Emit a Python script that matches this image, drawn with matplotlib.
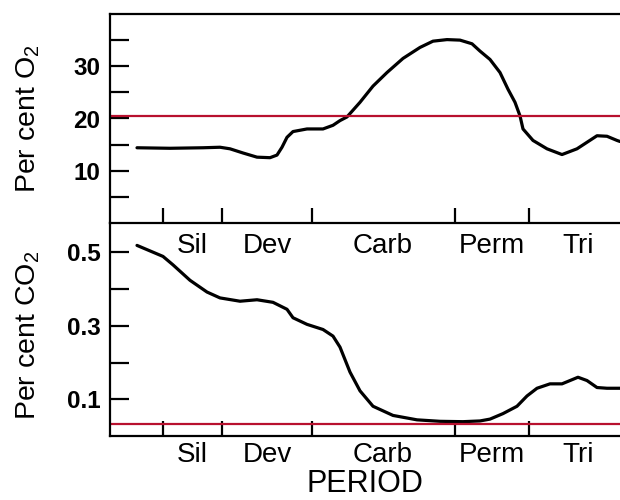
import matplotlib
matplotlib.use("Agg")
import matplotlib.pyplot as plt
from matplotlib.ticker import FixedLocator

plt.rcParams['font.family'] = ['Liberation Sans', 'DejaVu Sans']
plt.rcParams['mathtext.fontset'] = 'custom'
plt.rcParams['mathtext.rm'] = 'Liberation Sans'
plt.rcParams['mathtext.it'] = 'Liberation Sans'

# ---- data (x in arbitrary geologic-time units, left -> right = older -> younger)
periods = ["Sil", "Dev", "Carb", "Perm", "Tri"]
period_centers = [82, 157, 273, 382, 468]
period_bounds = [53, 112, 202, 345, 419]

o2_x = [27, 60, 93, 110, 120, 133, 147, 160, 167, 172, 177, 183, 197, 213, 223,
        230, 237, 250, 263, 277, 293, 310, 323, 337, 350, 362, 370, 380, 390,
        398, 405, 410, 413, 423, 437, 452, 467, 487, 497, 507, 510]
o2_y = [14.4, 14.3, 14.4, 14.5, 14.2, 13.4, 12.6, 12.5, 13.0, 14.5, 16.4, 17.5,
        18.0, 18.0, 18.7, 19.6, 20.3, 23.1, 26.2, 28.8, 31.5, 33.6, 34.8, 35.1,
        35.0, 34.3, 32.9, 31.3, 28.8, 25.6, 23.1, 20.5, 18.0, 15.8, 14.2, 13.1,
        14.2, 16.7, 16.6, 15.8, 15.6]

co2_x = [27, 53, 63, 80, 97, 110, 130, 147, 163, 177, 183, 197, 213, 223, 230,
         240, 250, 263, 283, 307, 330, 353, 370, 380, 393, 407, 417, 427, 440,
         452, 460, 468, 477, 487, 497, 510]
co2_y = [0.519, 0.489, 0.466, 0.424, 0.392, 0.376, 0.367, 0.371, 0.364, 0.345,
         0.322, 0.304, 0.290, 0.272, 0.242, 0.174, 0.123, 0.081, 0.056, 0.044,
         0.040, 0.039, 0.041, 0.046, 0.061, 0.081, 0.109, 0.130, 0.142, 0.142,
         0.151, 0.160, 0.151, 0.132, 0.130, 0.130]

o2_present = 20.5
co2_present = 0.033

o2_major = [10, 20, 30]
o2_minor = [5, 15, 25, 35]
co2_major = [0.1, 0.3, 0.5]
co2_minor = [0.2, 0.4]

RED = '#b8102e'

fig = plt.figure(figsize=(6.2, 5.0), dpi=100)
ax1 = fig.add_axes([110/620, 1-223/500, 1-110/620, (223-14)/500])
ax2 = fig.add_axes([110/620, 1-436/500, 1-110/620, (436-223)/500])
ax1.set_zorder(3)
ax1.patch.set_alpha(0)

for ax in (ax1, ax2):
    ax.set_xlim(0, 510)
    ax.spines['right'].set_visible(False)
    for s in ('left', 'top', 'bottom'):
        ax.spines[s].set_linewidth(1.6)
    ax.xaxis.set_major_locator(FixedLocator(period_bounds))
    ax.xaxis.set_minor_locator(FixedLocator(period_centers))
    ax.set_xticklabels([], minor=False)
    ax.set_xticklabels(periods, minor=True)
    ax.tick_params(axis='x', which='major', direction='in', length=11, width=1.6,
                   bottom=True, top=False)
    ax.tick_params(axis='x', which='minor', length=0, labelsize=20)
    ax.tick_params(axis='y', which='both', direction='in', length=14, width=1.6,
                   labelsize=17.5, pad=7)
    ax.tick_params(axis='y', which='minor', labelleft=False)

# top panel: O2
ax1.plot(o2_x, o2_y, color='black', lw=2.3, solid_capstyle='round',
         solid_joinstyle='round')
ax1.axhline(o2_present, color=RED, lw=1.6)
ax1.set_ylim(0, 40)
ax1.yaxis.set_major_locator(FixedLocator(o2_major))
ax1.yaxis.set_minor_locator(FixedLocator(o2_minor))
ax1.set_yticklabels(['10', '20', '30'], fontweight='bold')
ax1.tick_params(axis='x', which='minor', pad=7)
ax1.set_ylabel('Per cent O$_2$', fontsize=20.5)
ax1.yaxis.set_label_coords(-0.133, 0.5)

# bottom panel: CO2
ax2.plot(co2_x, co2_y, color='black', lw=2.3, solid_capstyle='round',
         solid_joinstyle='round')
ax2.axhline(co2_present, color=RED, lw=1.6)
ax2.set_ylim(0, 0.58)
ax2.spines['top'].set_visible(False)
ax2.yaxis.set_major_locator(FixedLocator(co2_major))
ax2.yaxis.set_minor_locator(FixedLocator(co2_minor))
ax2.set_yticklabels(['0.1', '0.3', '0.5'], fontweight='bold')
ax2.tick_params(axis='x', which='minor', pad=4)
ax2.set_ylabel('Per cent CO$_2$', fontsize=20.5)
ax2.yaxis.set_label_coords(-0.133, 0.47)
ax2.set_xlabel('PERIOD', fontsize=22, labelpad=1)

fig.savefig('out.png', dpi=100)
